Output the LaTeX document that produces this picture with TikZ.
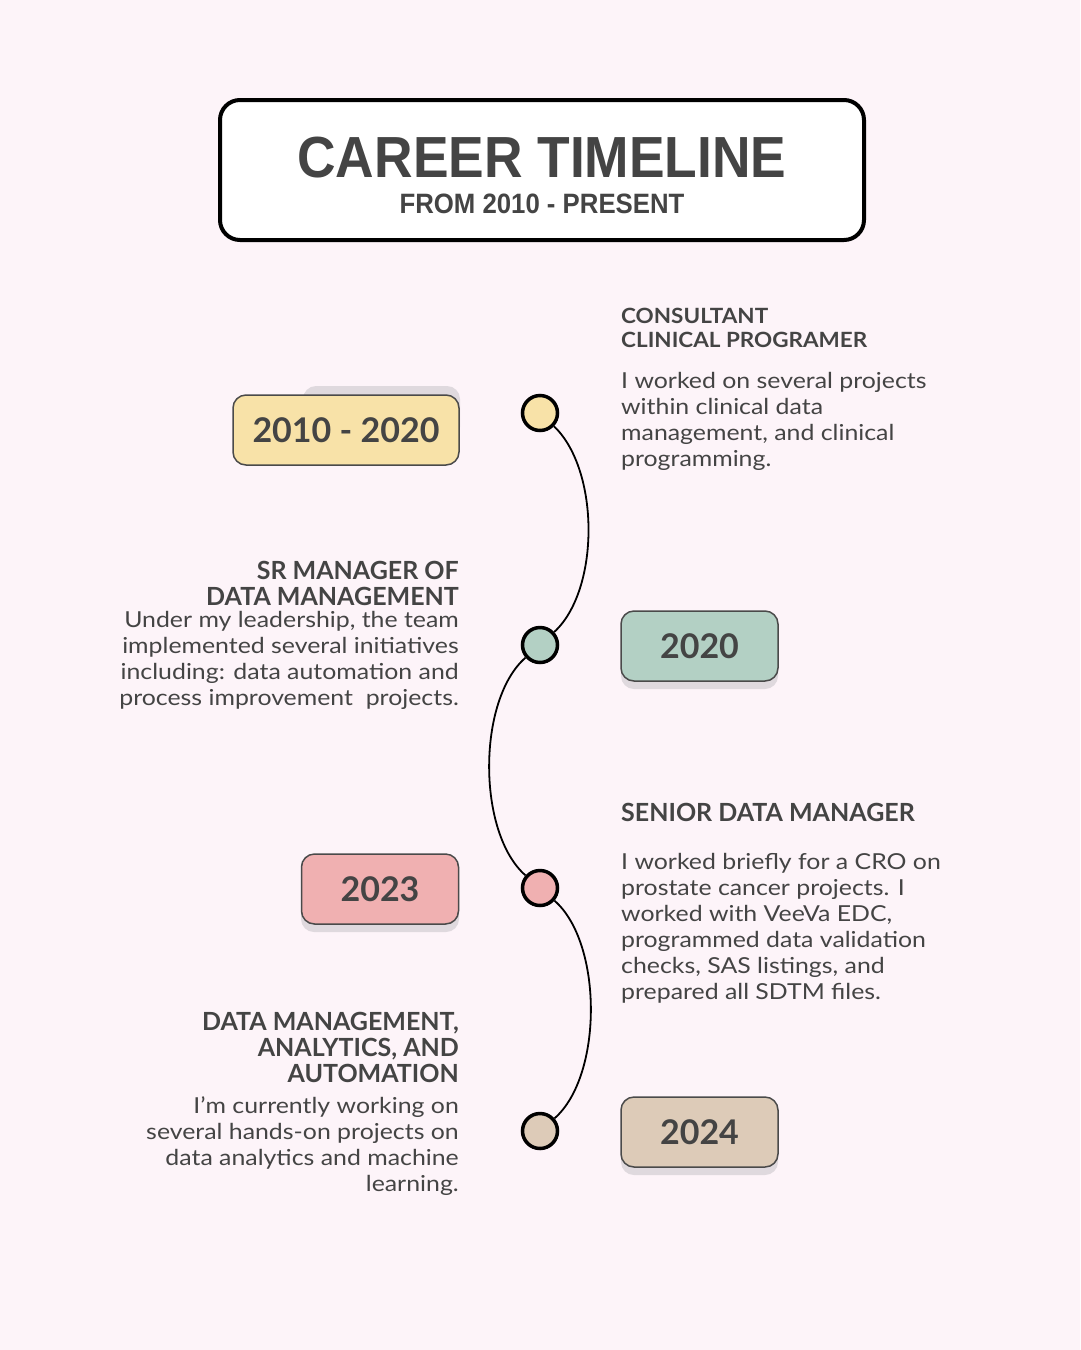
\documentclass[tikz,border=0pt]{standalone}
\usepackage{fontspec}
\setmainfont{Lato}
\newfontfamily\titlefont[FakeStretch=0.92]{Liberation Sans}
\newfontfamily\bodyfont[FakeStretch=1.13]{Lato}
\newfontfamily\headfont[FakeStretch=1.07]{Lato}
\usepackage{xcolor}
\definecolor{bgpink}{HTML}{FDF4F9}
\definecolor{ink}{HTML}{444444}
\definecolor{boxline}{HTML}{4A4A4A}
\definecolor{shadowc}{HTML}{DFD9DE}
\definecolor{yellowc}{HTML}{F8E2A8}
\definecolor{greenc}{HTML}{B3D0C4}
\definecolor{pinkc}{HTML}{F0B0B1}
\definecolor{tanc}{HTML}{DDCBB8}

\begin{document}
\begin{tikzpicture}[x=1pt,y=-1pt,
  yearbox/.style={draw=boxline,line width=1.5pt,rounded corners=13pt,minimum width=157pt,minimum height=70pt,inner sep=0pt,text=ink,font=\fontsize{34}{34}\selectfont\bfseries},
  dot/.style={circle,draw=black,line width=3.5pt,minimum size=35pt,inner sep=0pt},
  head/.style={inner sep=0pt,text=ink,font=\fontsize{25}{26}\selectfont\bfseries},
  body/.style={inner sep=0pt,text=ink,font=\bodyfont\fontsize{22}{26}\selectfont},
  shade/.style={fill=shadowc,rounded corners=13pt}]
\fill[bgpink] (0,0) rectangle (1080,1350);
\useasboundingbox (0,0) rectangle (1080,1350);

\node[draw,line width=4pt,rounded corners=20pt,fill=white,minimum width=644pt,minimum height=140pt] (titlebox) at (542,170) {};
\node[anchor=base,text=ink,inner sep=0pt,font={\titlefont\bfseries\fontsize{58}{58}\selectfont}] (title) at (542,177) {CAREER TIMELINE};
\node[anchor=base,text=ink,inner sep=0pt,font={\titlefont\bfseries\fontsize{28}{28}\selectfont}] (subtitle) at (542,213) {FROM 2010 - PRESENT};

\fill[shade] (303,386) rectangle (460,440);
\fill[shade] (621,630) rectangle (778,689);
\fill[shade] (301,870) rectangle (459,932);
\fill[shade] (621,1115) rectangle (778,1175);

\node[yearbox,fill=yellowc,minimum width=226pt] (y1) at (346,430) {2010 - 2020};
\node[yearbox,fill=greenc] (y2) at (699.5,646) {2020};
\node[yearbox,fill=pinkc] (y3) at (380,889) {2023};
\node[yearbox,fill=tanc] (y4) at (699.5,1132) {2024};

\node[dot,fill=yellowc] (c1) at (540,413) {};
\node[dot,fill=greenc] (c2) at (540,645) {};
\node[dot,fill=pinkc] (c3) at (540,888) {};
\node[dot,fill=tanc] (c4) at (540,1131) {};

\draw[line width=1.8pt] (c1) .. controls (600,470) and (600,590) .. (c2);
\draw[line width=1.8pt] (c2) .. controls (477,700) and (477,833) .. (c3);
\draw[line width=1.8pt] (c3) .. controls (603,943) and (603,1076) .. (c4);

\node[head,font=\headfont\fontsize{21}{24}\selectfont\bfseries,anchor=north west,align=left] (h1) at (621,308) {CONSULTANT\\CLINICAL PROGRAMER};
\node[body,anchor=north west,align=left] (d1) at (621,372) {I worked on several projects\\within clinical data\\management, and clinical\\programming.};

\node[head,anchor=north east,align=right] (h2) at (459,561) {SR MANAGER OF\\DATA MANAGEMENT};
\node[body,anchor=north east,align=right] (d2) at (459,611) {Under my leadership, the team\\implemented several initiatives\\including: data automation and\\process improvement\ \ projects.};

\node[head,anchor=north west,align=left] (h3) at (621,803) {SENIOR DATA MANAGER};
\node[body,anchor=north west,align=left] (d3) at (621,853) {I worked briefly for a CRO on\\prostate cancer projects. I\\worked with VeeVa EDC,\\programmed data validation\\checks, SAS listings, and\\prepared all SDTM files.};

\node[head,anchor=north east,align=right] (h4) at (459,1012) {DATA MANAGEMENT,\\ANALYTICS, AND\\AUTOMATION};
\node[body,anchor=north east,align=right] (d4) at (459,1096) {I’m currently working on\\several hands-on projects on\\data analytics and machine\\learning.};
\end{tikzpicture}
\end{document}
